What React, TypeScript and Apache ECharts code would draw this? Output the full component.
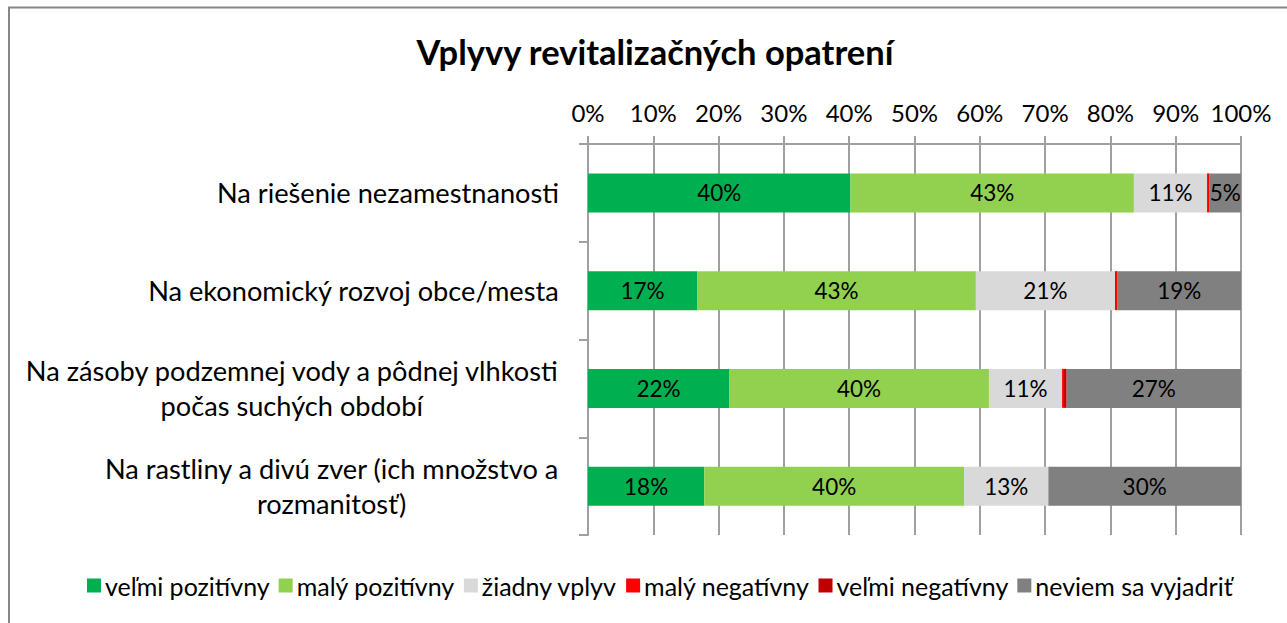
import React, { useEffect, useRef } from "react";
import * as echarts from "echarts";

const title = "Vplyvy revitalizačných opatrení";
const categories = [
  "Na riešenie nezamestnanosti",
  "Na ekonomický rozvoj obce/mesta",
  "Na zásoby podzemnej vody a pôdnej vlhkosti\npočas suchých období",
  "Na rastliny a divú zver (ich množstvo a\nrozmanitosť)",
];
const seriesNames = [
  "veľmi pozitívny",
  "malý pozitívny",
  "žiadny vplyv",
  "malý negatívny",
  "veľmi negatívny",
  "neviem sa vyjadriť",
];
const velmiPozitivny = [40.2, 16.7, 21.6, 17.8];
const malyPozitivny = [43.4, 42.7, 39.8, 39.8];
const ziadnyVplyv = [11.2, 21.3, 11.2, 12.9];
const malyNegativny = [0.4, 0.4, 0.3, 0];
const velmiNegativny = [0, 0, 0.4, 0];
const neviem = [4.8, 18.9, 26.7, 29.5];
const xTicks = [0, 10, 20, 30, 40, 50, 60, 70, 80, 90, 100];

const colors = ["#00B050", "#92D050", "#D9D9D9", "#FF0000", "#C00000", "#808080"];
const FONT = "Lato";
const CAT_SIZE = 27.2;

function measure(text: string, size: number, weight = "normal") {
  const c = document.createElement("canvas");
  const ctx = c.getContext("2d")!;
  ctx.font = `${weight} ${size}px ${FONT}`;
  return ctx.measureText(text).width;
}

export default function App() {
  const ref = useRef<HTMLDivElement>(null);
  useEffect(() => {
    if (!ref.current) return;
    const chart = echarts.init(ref.current, undefined, { renderer: "svg" });
    const allData = [velmiPozitivny, malyPozitivny, ziadnyVplyv, malyNegativny, velmiNegativny, neviem];
    const rich: any = {};
    categories.forEach((c, i) => {
      const w = Math.max(...c.split("\n").map((l) => measure(l, CAT_SIZE))) + 2;
      rich["r" + i] = { width: w, align: "center", fontSize: CAT_SIZE, fontFamily: FONT, color: "#000", lineHeight: 35 };
    });
    chart.setOption({
      animation: false,
      title: {
        text: title,
        left: 650,
        top: 29,
        textAlign: "center",
        textStyle: { fontFamily: FONT, fontWeight: "bold", fontSize: 34.5, color: "#000" },
      },
      graphic: [
        {
          type: "rect",
          shape: { x: 9, y: 7.5, width: 1300, height: 700 },
          style: { fill: "none", stroke: "#868686", lineWidth: 2 },
          silent: true,
        },
      ],
      legend: {
        top: 568,
        left: 82,
        itemWidth: 14,
        itemHeight: 14,
        itemGap: 9,
        icon: "rect",
        textStyle: { fontFamily: FONT, fontSize: 25, color: "#000", padding: [0, 0, 0, -1] },
        data: seriesNames,
      },
      grid: { left: 588, top: 144, width: 653, height: 391, containLabel: false },
      xAxis: {
        type: "value",
        position: "top",
        min: 0,
        max: 100,
        interval: 10,
        axisLine: { show: true, lineStyle: { color: "#A0A0A0", width: 2 } },
        axisTick: { show: true, length: 8, lineStyle: { color: "#A0A0A0", width: 2 } },
        splitLine: { show: true, lineStyle: { color: "#A0A0A0", width: 2 } },
        axisLabel: {
          margin: 20,
          fontFamily: FONT,
          fontSize: 24,
          color: "#000",
          formatter: (v: number) => (xTicks.includes(v) ? v + "%" : ""),
        },
      },
      yAxis: {
        type: "category",
        inverse: true,
        data: categories,
        axisLine: { show: true, lineStyle: { color: "#A0A0A0", width: 2 } },
        axisTick: { show: true, length: 9, lineStyle: { color: "#A0A0A0", width: 2 } },
        axisLabel: {
          margin: 28,
          align: "right",
          formatter: (v: string, i: number) =>
            v
              .split("\n")
              .map((l) => `{r${i}|${l}}`)
              .join("\n"),
          rich,
        },
      },
      series: seriesNames.map((name, si) => ({
        name,
        type: "bar",
        stack: "total",
        barWidth: 39,
        data: allData[si],
        itemStyle: { color: colors[si] },
        label: {
          show: true,
          position: "inside",
          fontFamily: FONT,
          fontSize: 22.5,
          color: "#000",
          formatter: (p: any) => (p.value >= 3 ? Math.round(p.value) + "%" : ""),
        },
      })),
    });
    return () => chart.dispose();
  }, []);
  return (
    <div
      ref={ref}
      style={{ position: "absolute", left: 0, top: 0, width: 1287, height: 623, background: "#fff" }}
    />
  );
}
